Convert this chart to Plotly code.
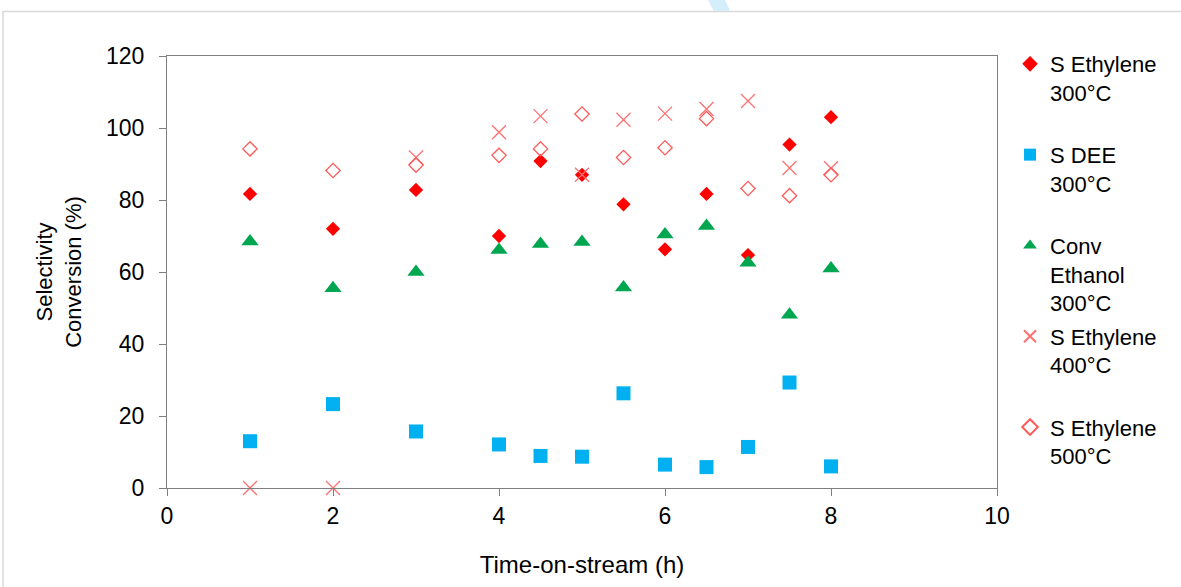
import plotly.graph_objects as go

time_h = [1, 2, 3, 4, 4.5, 5, 5.5, 6, 6.5, 7, 7.5, 8]
s_ethylene_300 = [81.7, 72.0, 82.8, 70.0, 90.8, 87.0, 78.8, 66.3, 81.7, 64.7, 95.4, 103.0]
s_dee_300 = [13.0, 23.3, 15.7, 12.1, 8.9, 8.7, 26.3, 6.5, 5.8, 11.4, 29.3, 6.0]
conv_ethanol_300 = [68.5, 55.5, 60.0, 66.1, 67.8, 68.3, 55.7, 70.4, 72.8, 62.6, 48.1, 61.0]
s_ethylene_400 = [0, 0, 91.8, 98.8, 103.3, 87.0, 102.3, 104.0, 105.3, 107.5, 88.9, 88.8]
s_ethylene_500 = [94.2, 88.2, 89.7, 92.4, 94.2, 103.9, 91.8, 94.5, 102.6, 83.2, 81.2, 87.0]

series_names = [
    "S Ethylene<br>300°C<br> ",
    "S DEE<br>300°C<br> ",
    "Conv<br>Ethanol<br>300°C",
    "S Ethylene<br>400°C<br> ",
    "S Ethylene<br>500°C<br> ",
]
x_ticks = [0, 2, 4, 6, 8, 10]
y_ticks = [0, 20, 40, 60, 80, 100, 120]

FONT = "Liberation Sans, Arial, sans-serif"

fig = go.Figure()
fig.add_trace(go.Scatter(x=time_h, y=s_ethylene_300, mode="markers", name=series_names[0],
                         legendgroup="a",
                         marker=dict(symbol="diamond", size=11, color="#FF0000", line=dict(width=0))))
fig.add_trace(go.Scatter(x=time_h, y=s_dee_300, mode="markers", name=series_names[1],
                         legendgroup="b",
                         marker=dict(symbol="square", size=14, color="#00B0F0", line=dict(width=0))))
fig.add_trace(go.Scatter(x=time_h, y=conv_ethanol_300, mode="markers", name=series_names[2],
                         legendgroup="c",
                         marker=dict(symbol="triangle-up", size=15, color="#00A650", line=dict(width=0))))
fig.add_trace(go.Scatter(x=time_h, y=s_ethylene_400, mode="markers", name=series_names[3],
                         legendgroup="d",
                         marker=dict(symbol="x-thin-open", size=14, color="#FF7070",
                                     line=dict(width=1.3, color="#FF7070"))))
fig.add_trace(go.Scatter(x=time_h, y=s_ethylene_500, mode="markers", name=series_names[4],
                         legendgroup="e",
                         marker=dict(symbol="diamond-open", size=11, color="#FF5A5A",
                                     line=dict(width=1.3, color="#FF5A5A"))))
for tr in fig.data:
    tr.cliponaxis = False

axis_common = dict(
    showline=True, linecolor="#7F7F7F", linewidth=1.3, mirror=True,
    ticks="outside", ticklen=7, tickwidth=1.3, tickcolor="#7F7F7F",
    showgrid=False, zeroline=False,
    tickfont=dict(family=FONT, size=23, color="#000000"),
)

fig.update_layout(
    width=1181, height=587,
    paper_bgcolor="white", plot_bgcolor="white",
    margin=dict(l=167, r=184, t=56, b=99),
    font=dict(family=FONT, color="#000000"),
    xaxis=dict(range=[0, 10], tickvals=x_ticks, ticktext=[str(v) for v in x_ticks],
               title=dict(text="Time-on-stream (h)", font=dict(family=FONT, size=24), standoff=28),
               **axis_common),
    yaxis=dict(range=[0, 120], tickvals=y_ticks, ticktext=[str(v) for v in y_ticks],
               ticklabelstandoff=10,
               title=dict(text="Selectivity<br>Conversion (%)", font=dict(family=FONT, size=22), standoff=18),
               **axis_common),
    legend=dict(x=1.0157, xanchor="left", y=1.03, yanchor="top",
                font=dict(family=FONT, size=22, color="#000000"),
                valign="top", tracegroupgap=2, itemsizing="constant",
                maxheight=560,
                bgcolor="rgba(0,0,0,0)"),
    shapes=[
        dict(type="rect", xref="paper", yref="paper",
             x0=(3 - 167) / 830, x1=(1190 - 167) / 830,
             y0=(488 - 600) / 432, y1=(488 - 11.5) / 432,
             line=dict(color="#D9D9D9", width=1.5), fillcolor="rgba(0,0,0,0)", layer="below"),
        dict(type="path", xref="paper", yref="paper",
             path="M {:.4f},{:.4f} L {:.4f},{:.4f} Q {:.4f},{:.4f} {:.4f},{:.4f} L {:.4f},{:.4f} Q {:.4f},{:.4f} {:.4f},{:.4f} Z".format(
                 (707 - 167) / 830, (488 + 3) / 432,
                 (723 - 167) / 830, (488 + 3) / 432,
                 (728 - 167) / 830, (488 - 5) / 432,
                 (730 - 167) / 830, (488 - 11) / 432,
                 (714 - 167) / 830, (488 - 11) / 432,
                 (710 - 167) / 830, (488 - 5) / 432,
                 (707 - 167) / 830, (488 + 3) / 432),
             line=dict(width=0), fillcolor="#D4EEFB", layer="below"),
    ],
)

fig.write_html("out.html", config={"displayModeBar": False},
               post_script="document.body.style.margin='0';")
